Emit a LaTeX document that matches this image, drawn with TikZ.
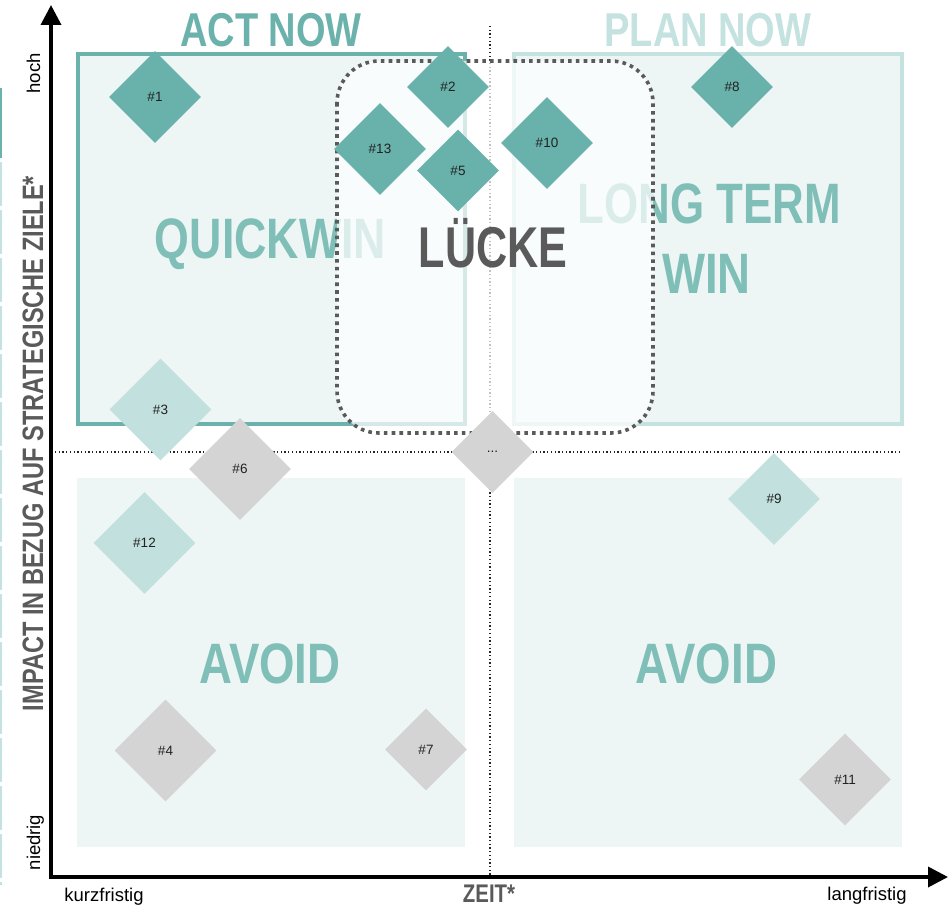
\documentclass[tikz,border=0pt]{standalone}
\usepackage{fontspec}
\setmainfont{Liberation Sans}
\newfontfamily\condfont[FakeStretch=0.8]{Liberation Sans}
\newfontfamily\condfontq[FakeStretch=0.785]{Liberation Sans}
\newfontfamily\condfontl[FakeStretch=0.77]{Liberation Sans}
\newfontfamily\condfontk[FakeStretch=0.75]{Liberation Sans}
\usetikzlibrary{shapes.geometric,arrows.meta}
\definecolor{tealA}{HTML}{6BB2AC}
\definecolor{tealB}{HTML}{80BFB8}
\definecolor{tealC}{HTML}{C4E2DF}
\definecolor{diaDark}{HTML}{69B1AB}
\definecolor{diaLight}{HTML}{C2E0DD}
\definecolor{diaGray}{HTML}{D4D4D4}
\definecolor{qfill}{HTML}{EDF6F5}
\definecolor{darkgray}{HTML}{5A5A5A}
\definecolor{lblcol}{HTML}{222222}
\tikzset{
  dia/.style={diamond, aspect=1, inner sep=0pt, draw=none, text=lblcol,
              font=\fontsize{13.5}{14}\selectfont},
  dk/.style={dia, fill=diaDark},
  lt/.style={dia, fill=diaLight},
  gr/.style={dia, fill=diaGray},
  bigtxt/.style={anchor=base, inner sep=0pt, font=\condfont\bfseries\fontsize{57}{60}\selectfont},
  headtxt/.style={anchor=base, inner sep=0pt, font=\condfont\bfseries\fontsize{47.5}{50}\selectfont},
  dotline/.style={draw=black!85, line width=1.3pt, dash pattern=on 1.3pt off 2.4pt},
  lueckeline/.style={draw=darkgray, line width=3.6pt, dash pattern=on 3.6pt off 4.2pt},
  axisline/.style={line width=3.6pt, black, line join=miter},
  smalltxt/.style={inner sep=0pt, text=black, font=\fontsize{18.5}{20}\selectfont},
}
\begin{document}
\begin{tikzpicture}[x=1pt,y=-1pt]
\useasboundingbox (0,0) rectangle (952,907);
% left strip
\draw[tealA, line width=1.6pt] (0.8,88) -- (0.8,158);
\draw[tealC, line width=1.6pt, dash pattern=on 44pt off 4pt] (0.8,162) -- (0.8,885);
% quadrants
\fill[qfill] (77,478) rectangle (465,847);
\fill[qfill] (514,478) rectangle (902,847);
\draw[tealA, line width=4pt, fill=qfill] (77.5,54.5) rectangle (465,423.5);
\draw[tealC, line width=4pt, fill=qfill] (514,54.5) rectangle (901.5,423.5);
% dotted guide lines
\coordinate (hl) at (55,452);
\coordinate (hr) at (900,452);
\coordinate (vt) at (490,26);
\coordinate (vb) at (490,876);
\draw[dotline] (hl) -- (hr);
\draw[dotline] (vt) -- (vb);
% headings
\node[headtxt, text=tealA] (actnow) at (271,47) {ACT NOW};
\node[headtxt, text=tealC] (plannow) at (708,47) {PLAN NOW};
% quadrant texts
\node[bigtxt, text=tealB, font=\condfontq\bfseries\fontsize{57}{60}\selectfont] (quick) at (270.5,258.5) {QUICKWIN};
\node[bigtxt, text=tealB, font=\condfontl\bfseries\fontsize{57}{60}\selectfont] (longterm) at (709,223.5) {LONG TERM};
\node[bigtxt, text=tealB] (win) at (706.5,293.5) {WIN};
\node[bigtxt, text=tealB] (avoidl) at (270,683.5) {AVOID};
\node[bigtxt, text=tealB] (avoidr) at (706.5,683.5) {AVOID};
% Luecke overlay
\path[fill=white, fill opacity=0.72, rounded corners=42pt] (337,61) rectangle (653,433);
\draw[lueckeline, rounded corners=42pt] (337,61) rectangle (653,433);
\node[bigtxt, text=darkgray, font=\condfontk\bfseries\fontsize{57.5}{60}\selectfont] (luecke) at (493,267) {LÜCKE};
% axes
\coordinate (O) at (51,877);
\coordinate (ytip) at (51,5);
\coordinate (xtip) at (948,877);
\draw[axisline, {Triangle[length=20pt,width=20pt]}-{Triangle[length=20pt,width=20pt]}] (ytip) -- (O) -- (xtip);
% axis labels
\node[anchor=base, inner sep=0pt, text=darkgray, rotate=90,
      font=\condfont\bfseries\fontsize{29.5}{30}\selectfont] (ylab) at (43,443.5)
      {IMPACT IN BEZUG AUF STRATEGISCHE ZIELE*};
\node[anchor=base, inner sep=0pt, text=darkgray,
      font=\condfont\bfseries\fontsize{25.5}{27}\selectfont] (xlab) at (489,902.5) {ZEIT*};
\node[smalltxt, anchor=base, rotate=90] (hoch) at (40,73.5) {hoch};
\node[smalltxt, anchor=base, rotate=90] (niedrig) at (40,842.5) {niedrig};
\node[smalltxt, anchor=base] (kurz) at (104,901) {kurzfristig};
\node[smalltxt, anchor=base] (lang) at (867,900) {langfristig};
% diamonds
\node[dk, minimum size=92pt] (d1) at (155,97) {\#1};
\node[dk, minimum size=82pt] (d2) at (448,87) {\#2};
\node[dk, minimum size=92pt] (d13) at (380,149) {\#13};
\node[dk, minimum size=82pt] (d5) at (458,170.5) {\#5};
\node[dk, minimum size=92pt] (d10) at (547,143) {\#10};
\node[dk, minimum size=82pt] (d8) at (732,87) {\#8};
\node[lt, minimum size=102pt] (d3) at (160.5,409.5) {\#3};
\node[gr, minimum size=102pt] (d6) at (240,469) {\#6};
\node[lt, minimum size=102pt] (d12) at (144.5,543) {\#12};
\node[gr, minimum size=102pt] (d4) at (165.5,750.5) {\#4};
\node[gr, minimum size=82pt] (d7) at (426,749.5) {\#7};
\node[gr, minimum size=92pt] (d11) at (845,779.5) {\#11};
\node[lt, minimum size=92pt] (d9) at (774,499) {\#9};
\node[gr, minimum size=82pt] (ddots) at (492.5,452) {...};
\end{tikzpicture}
\end{document}
